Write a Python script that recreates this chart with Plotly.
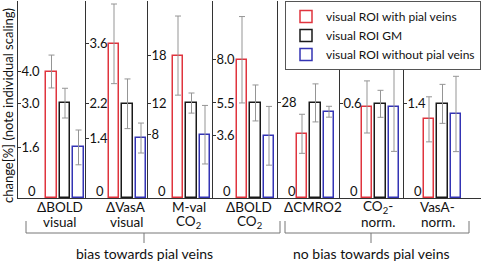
import plotly.graph_objects as go
from plotly.subplots import make_subplots

# ---------------- data ----------------
label_line1 = ["ΔBOLD", "ΔVasA", "M-val", "ΔBOLD", "ΔCMRO2", "CO<sub>2</sub>-", "VasA-"]
label_line2 = ["visual", "visual", "CO<sub>2</sub>", "CO<sub>2</sub>", "", "norm.", "norm."]
series_names = ["visual ROI with pial veins", "visual ROI GM", "visual ROI without pial veins"]

with_veins = [4.0, 3.6, 18, 8.0, 18.9, 0.58, 1.17]
gm = [3.0, 2.2, 12, 5.5, 28, 0.60, 1.40]
without_veins = [1.6, 1.4, 8, 3.6, 25.4, 0.58, 1.25]

err_with = [0.52, 0.93, 5.0, 2.5, 5.75, 0.166, 0.335]
err_gm = [0.47, 0.58, 1.27, 1.04, 5.6, 0.086, 0.29]
err_without = [0.55, 0.35, 3.7, 1.7, 1.6, 0.283, 0.56]

tick_vals = [[4.0, 3.0, 1.6], [3.6, 2.2, 1.4], [18, 12, 8], [8.0, 5.5, 3.6], [28], [0.6], [1.4]]
tick_text = [["4.0", "3.0", "1.6"], ["3.6", "2.2", "1.4"], ["18", "12", "8"], ["8.0", "5.5", "3.6"],
             ["28"], ["0.6"], ["1.4"]]

group_labels = ["bias towards pial veins", "no bias towards pial veins"]

# ---------------- layout / style ----------------
panel_px = [68, 62, 65, 65, 62, 64, 77]
first_bar_px = [33.5, 28, 30, 29, 24, 27, 25]
y_max = [6.23, 4.6, 24.9, 11.4, 58, 1.255, 2.93]
label_x = [0.6, 0.9, 0.8, 0.55, 0.85, 0.85, 0.65]
SP = 13.5
colors = ["#e0343e", "#1a1a1a", "#3434b4"]
FONT = "Lato"

W, H = 482, 261
ML, MR, MT, MB = 18, 1, 1, 63
PW = W - ML - MR
PH = H - MT - MB


def px_x(p):
    return (p - ML) / PW


def px_y(p):
    return (H - MB - p) / PH


fig = make_subplots(rows=1, cols=7, column_widths=panel_px, horizontal_spacing=0)

series = [(with_veins, err_with), (gm, err_gm), (without_veins, err_without)]
for i in range(7):
    for j, (vals, errs) in enumerate(series):
        fig.add_trace(go.Bar(
            x=[j], y=[vals[i]], width=0.76,
            marker=dict(color="white", line=dict(color=colors[j], width=1.5)),
            error_y=dict(type="data", array=[errs[i]], color="#959595", thickness=1, width=3),
            name=series_names[j], showlegend=(i == 0),
        ), row=1, col=i + 1)
    lo = -first_bar_px[i] / SP
    hi = lo + panel_px[i] / SP
    fig.update_xaxes(row=1, col=i + 1, range=[lo, hi], showticklabels=False, automargin=False,
                     showline=True, linecolor="#333", linewidth=1, ticks="", showgrid=False,
                     zeroline=False)
    fig.update_yaxes(row=1, col=i + 1, range=[0, y_max[i]], tickvals=tick_vals[i], ticktext=tick_text[i],
                     ticks="inside", ticklen=3, tickcolor="#333", ticklabelposition="inside",
                     automargin=False,
                     showline=True, linecolor="#333", linewidth=1, showgrid=False, zeroline=False,
                     tickfont=dict(size=13, color="#111", family=FONT))
    xa = "x" if i == 0 else f"x{i+1}"
    ya = "y" if i == 0 else f"y{i+1}"
    fig.add_annotation(x=0, xref=f"{xa} domain", y=0, yref=ya, text="0", showarrow=False,
                       xanchor="left", yanchor="bottom", xshift=8, yshift=-3,
                       font=dict(size=13, color="#111", family=FONT))
    fig.add_annotation(x=label_x[i], xref=xa, y=px_y(207), yref="paper", text=label_line1[i],
                       showarrow=False, xanchor="center", yanchor="middle", borderpad=0,
                       font=dict(size=13.5, color="#111", family=FONT))
    if label_line2[i]:
        fig.add_annotation(x=label_x[i], xref=xa, y=px_y(222), yref="paper", text=label_line2[i],
                           showarrow=False, xanchor="center", yanchor="middle", borderpad=0,
                           font=dict(size=13.5, color="#111", family=FONT))

brackets = [(26, 280, 144), (285, 469, 371)]
lc = dict(color="#777", width=1)
for (a, b, m), lab in zip(brackets, group_labels):
    fig.add_shape(type="line", xref="paper", yref="paper", x0=px_x(a), x1=px_x(b), y0=px_y(233), y1=px_y(233), line=lc)
    fig.add_shape(type="line", xref="paper", yref="paper", x0=px_x(a), x1=px_x(a), y0=px_y(221), y1=px_y(233), line=lc)
    fig.add_shape(type="line", xref="paper", yref="paper", x0=px_x(b), x1=px_x(b), y0=px_y(221), y1=px_y(233), line=lc)
    fig.add_shape(type="line", xref="paper", yref="paper", x0=px_x(m), x1=px_x(m), y0=px_y(233), y1=px_y(243), line=lc)
    fig.add_annotation(xref="paper", yref="paper", x=px_x(m), y=px_y(253), text=lab, showarrow=False,
                       xanchor="center", yanchor="middle", font=dict(size=14, color="#111", family=FONT))

fig.add_annotation(xref="paper", yref="paper", x=px_x(8), y=px_y(106),
                   text="change[%] (note individual scaling)", textangle=-90, showarrow=False,
                   xanchor="center", yanchor="middle", font=dict(size=13, color="#111", family=FONT))

fig.update_layout(
    width=W, height=H, margin=dict(l=ML, r=MR, t=MT, b=MB, autoexpand=False),
    plot_bgcolor="white", paper_bgcolor="white",
    barmode="overlay", bargap=0,
    font=dict(family=FONT, color="#111"),
    legend=dict(x=1, xanchor="right", y=1, yanchor="top", bgcolor="white",
                bordercolor="#555", borderwidth=1, font=dict(size=12, family=FONT, color="#111"),
                itemwidth=30, tracegroupgap=0, traceorder="normal"),
)

fig.write_html("out.html", config={"displayModeBar": False},
               post_script="document.body.style.margin='0';document.body.style.padding='0';")
